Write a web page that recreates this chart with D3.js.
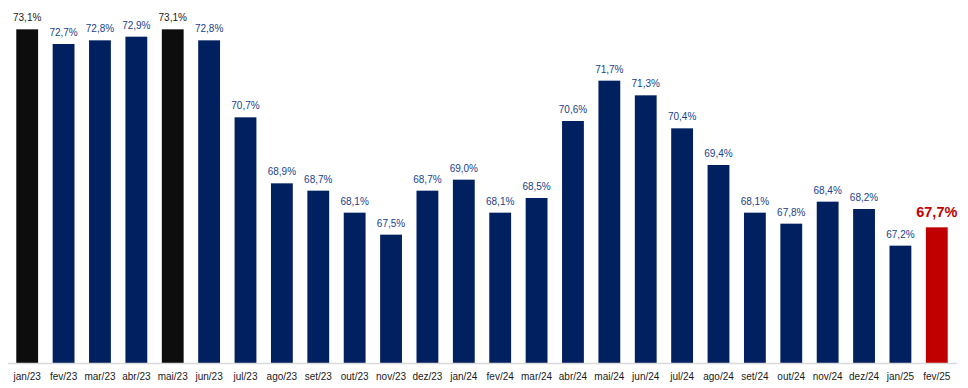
<!DOCTYPE html>
<html>
<head>
<meta charset="utf-8">
<script src="https://cdn.jsdelivr.net/npm/d3@7"></script>
<style>
  body { margin: 0; background: #fff; }
  svg { display: block; font-family: "Liberation Sans", Arial, sans-serif; }
</style>
</head>
<body>
<svg width="968" height="388"></svg>
<script>
const months = ["jan/23","fev/23","mar/23","abr/23","mai/23","jun/23","jul/23","ago/23","set/23","out/23","nov/23","dez/23",
  "jan/24","fev/24","mar/24","abr/24","mai/24","jun/24","jul/24","ago/24","set/24","out/24","nov/24","dez/24","jan/25","fev/25"];
const values = [73.1,72.7,72.8,72.9,73.1,72.8,70.7,68.9,68.7,68.1,67.5,68.7,
  69.0,68.1,68.5,70.6,71.7,71.3,70.4,69.4,68.1,67.8,68.4,68.2,67.2,67.7];
const highlightBlack = ["jan/23","mai/23"];
const highlightRed = ["fev/25"];

const data = months.map((m, i) => ({ month: m, value: values[i] }));

const svg = d3.select("svg");
const baseline = 363;

const x = d3.scaleBand()
  .domain(months)
  .range([9, 955])
  .paddingInner(0.4)
  .paddingOuter(0.2);

const y = d3.scaleLinear()
  .domain([64, 73.9])
  .range([baseline, 0]);

const fmt = v => d3.format(".1f")(v).replace(".", ",") + "%";

const barColor = d => highlightRed.includes(d.month) ? "#c00000"
  : highlightBlack.includes(d.month) ? "#0d0d0d" : "#002060";
const labelColor = d => highlightRed.includes(d.month) ? "#c00000"
  : highlightBlack.includes(d.month) ? "#1a1a1a" : "#203f8c";

svg.append("g")
  .selectAll("rect")
  .data(data)
  .join("rect")
    .attr("x", d => x(d.month))
    .attr("y", d => y(d.value))
    .attr("width", x.bandwidth())
    .attr("height", d => baseline - y(d.value))
    .attr("fill", barColor);

// axis
const axis = svg.append("g")
  .attr("transform", `translate(0,${baseline})`)
  .call(d3.axisBottom(x).tickSize(0).tickPadding(10));
axis.select(".domain")
  .attr("d", "M8,0.5H957")
  .attr("stroke", "#d9d9d9")
  .attr("stroke-width", 1.5);
axis.selectAll("text")
  .attr("font-size", 10)
  .attr("font-family", "Liberation Sans, Arial, sans-serif")
  .attr("fill", "#1a1a1a");

// value labels
svg.append("g")
  .selectAll("text")
  .data(data)
  .join("text")
    .attr("x", d => x(d.month) + x.bandwidth() / 2)
    .attr("y", d => y(d.value) - (highlightRed.includes(d.month) ? 10 : 8))
    .attr("text-anchor", "middle")
    .attr("font-size", d => highlightRed.includes(d.month) ? 14.5 : 10)
    .attr("font-weight", d => highlightRed.includes(d.month) ? "bold" : "normal")
    .attr("fill", labelColor)
    .text(d => fmt(d.value));
</script>
</body>
</html>
